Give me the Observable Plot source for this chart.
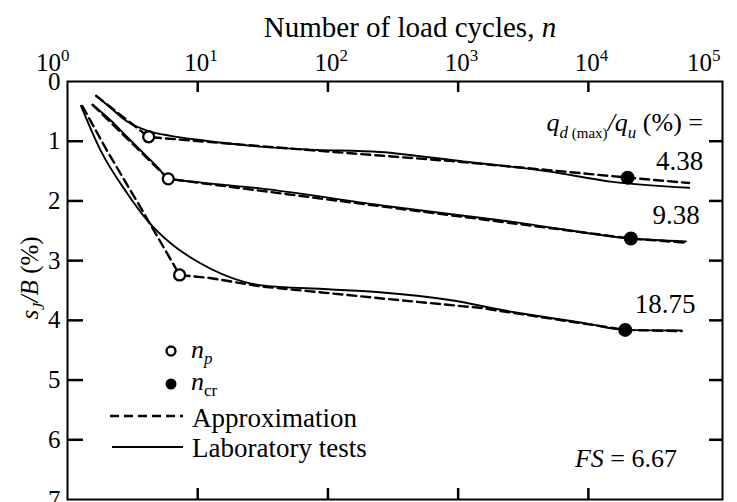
<!DOCTYPE html>
<html><head><meta charset="utf-8">
<script src="https://cdn.jsdelivr.net/npm/d3@7"></script>
<script src="https://cdn.jsdelivr.net/npm/@observablehq/plot@0.6"></script>
<style>
html,body{margin:0;padding:0;background:#fff;}
#chart{position:relative;width:737px;height:502px;overflow:hidden;}
#chart svg text, #chart svg tspan{font-family:"Liberation Serif","DejaVu Serif","Times New Roman",Times,serif !important;}
</style></head>
<body><div id="chart"></div>
<script>
// ---- tick values ----
const xTicks = [1, 10, 100, 1000, 10000, 100000];
const xInnerTicks = [10, 100, 1000, 10000];
const yTicks = [0, 1, 2, 3, 4, 5, 6, 7];
const yInnerTicks = [1, 2, 3, 4, 5, 6];
const ratioLabels = ["4.38", "9.38", "18.75"];

// ---- laboratory tests (solid) ----
const labN_438 = [1.66, 2.14, 2.87, 4.2, 6.2, 10.4, 30, 73, 250, 1090, 4750, 15300, 59400];
const labS_438 = [0.24, 0.44, 0.67, 0.83, 0.91, 0.98, 1.09, 1.14, 1.18, 1.34, 1.50, 1.68, 1.78];
const labN_938 = [1.56, 2.14, 2.87, 3.83, 4.9, 5.94, 10.4, 30, 250, 860, 2630, 21200, 56000];
const labS_938 = [0.39, 0.65, 0.93, 1.20, 1.43, 1.62, 1.69, 1.79, 2.07, 2.22, 2.35, 2.63, 2.68];
const labN_1875 = [1.27, 1.79, 2.87, 4.08, 6.2, 10.4, 22.3, 30, 100, 250, 860, 2630, 9600, 19200, 52000];
const labS_1875 = [0.41, 1.15, 1.87, 2.32, 2.71, 3.04, 3.35, 3.41, 3.48, 3.53, 3.66, 3.86, 4.05, 4.16, 4.17];

// ---- approximation (dashed) ----
const apxN_438 = [1.66, 4.2, 10.4, 73, 250, 860, 4750, 20000, 59400];
const apxS_438 = [0.24, 0.93, 1.00, 1.15, 1.24, 1.33, 1.48, 1.61, 1.70];
const apxN_938 = [1.56, 5.94, 21200, 56000];
const apxS_938 = [0.39, 1.63, 2.63, 2.70];
const apxN_1875 = [1.30, 2.0, 3.62, 7.26, 12.4, 30, 250, 1460, 19200, 52000];
const apxS_1875 = [0.41, 1.15, 2.10, 3.24, 3.29, 3.43, 3.63, 3.79, 4.16, 4.18];

// ---- characteristic points ----
const npN = [4.2, 5.94, 7.26];
const npS = [0.925, 1.63, 3.24];
const ncrN = [20000, 21200, 19200];
const ncrS = [1.61, 2.63, 4.16];

function rows(ns, ss, key) { return ns.map((n, i) => ({n, s: ss[i], key})); }
const labRows = [...rows(labN_438, labS_438, "4.38"), ...rows(labN_938, labS_938, "9.38"), ...rows(labN_1875, labS_1875, "18.75")];
const apxRows = [...rows(apxN_438, apxS_438, "4.38"), ...rows(apxN_938, apxS_938, "9.38"), ...rows(apxN_1875, apxS_1875, "18.75")];
const npRows = rows(npN, npS, "np");
const ncrRows = rows(ncrN, ncrS, "ncr");
const labSeriesN = [labN_438, labN_938, labN_1875];
const labSeriesS = [labS_438, labS_938, labS_1875];
const endRows = ratioLabels.map((k, i) => ({key: k, n: labSeriesN[i].at(-1), s: labSeriesS[i].at(-1)}));

const W = 737, H = 502, mL = 67, mR = 15, mT = 81, mB = 3;
const pw = W - mL - mR, ph = H - mT - mB;
const FONT = "'Liberation Serif', 'DejaVu Serif', serif";

const plot = Plot.plot({
  width: W, height: H,
  marginLeft: mL, marginRight: mR, marginTop: mT, marginBottom: mB,
  x: {type: "log", domain: [1, 10 ** 5.03], axis: null},
  y: {domain: [0, 7], reverse: true},
  style: {fontFamily: FONT, fontSize: "25px", background: "#fff", color: "#000", overflow: "visible"},
  marks: [
    Plot.frame({stroke: "#000", strokeWidth: 2}),
    Plot.tickX(xInnerTicks, {x: d => d, insetBottom: ph - 11, stroke: "#000", strokeWidth: 2.5}),
    Plot.tickX(xInnerTicks, {x: d => d, insetTop: ph - 11, stroke: "#000", strokeWidth: 2.5}),
    Plot.tickY(yInnerTicks, {y: d => d, insetRight: pw - 16, stroke: "#000", strokeWidth: 2.5}),
    Plot.tickY(yInnerTicks, {y: d => d, insetLeft: pw - 13, stroke: "#000", strokeWidth: 2.5}),
    Plot.axisY({anchor: "left", ticks: yTicks, tickSize: 0, tickPadding: 7, fontSize: 25, label: null, tickFormat: d => String(d)}),
    Plot.text(xTicks, {x: d => d, text: d => "E" + Math.round(Math.log10(d)), frameAnchor: "top",
      dy: -11, dx: -13.5, lineAnchor: "bottom", textAnchor: "start", fontSize: 25}),
    Plot.line(labRows, {x: "n", y: "s", z: "key", curve: "monotone-x", stroke: "#000", strokeWidth: 1.9}),
    Plot.line(apxRows, {x: "n", y: "s", z: "key", curve: "linear", stroke: "#000", strokeWidth: 2.4, strokeDasharray: "9,5"}),
    Plot.dot(npRows, {x: "n", y: "s", r: 5.5, fill: "#fff", stroke: "#000", strokeWidth: 2.3}),
    Plot.dot(ncrRows, {x: "n", y: "s", r: 7, fill: "#000", stroke: "none"}),
    Plot.text(endRows, {x: "n", y: "s", text: "key", textAnchor: "end", dx: 14, dy: -26, fontSize: 27})
  ]
});

const svg = d3.select(plot);
// x tick labels as powers of ten
const nudge = {"0": -18, "5": -18};
svg.selectAll("text").filter(function () { return /^E[0-9]$/.test(this.textContent); }).each(function () {
  const e = this.textContent.slice(1);
  const t = d3.select(this);
  t.text("");
  t.append("tspan").text("10").attr("dx", nudge[e] || 0);
  t.append("tspan").text(e).attr("font-size", 17).attr("dy", -10);
});

function rich(parent, x, y, parts, opts = {}) {
  const t = parent.append("text").attr("x", x).attr("y", y)
    .style("font-family", FONT).attr("fill", "#000")
    .attr("text-anchor", opts.anchor || "start").attr("font-size", opts.size || 27);
  if (opts.transform) t.attr("transform", opts.transform);
  for (const p of parts) {
    const s = t.append("tspan").text(p.t);
    if (p.i) s.attr("font-style", "italic");
    if (p.fs) s.attr("font-size", p.fs);
    if (p.dy) s.attr("dy", p.dy);
  }
  return t;
}
const g = svg.append("g");
// title
rich(g, 410, 37, [{t: "Number of load cycles, "}, {t: "n", i: true}], {anchor: "middle", size: 29});
// y-axis title
rich(g, 0, 0, [{t: "s", i: true}, {t: "J", i: true, fs: 17, dy: 6}, {t: "/B", i: true, dy: -6}, {t: " (%)"}],
  {anchor: "middle", size: 25, transform: "translate(38,278) rotate(-90)"});
// ratio header
rich(g, W - mR - 19, 131, [
  {t: "q", i: true}, {t: "d", i: true, fs: 17, dy: 7}, {t: " (max)", fs: 15},
  {t: "/q", i: true, dy: -7}, {t: "u", i: true, fs: 17, dy: 7}, {t: " (%) =", dy: -7}
], {anchor: "end", size: 26});
// FS
rich(g, W - mR - 45, 467, [{t: "FS", i: true}, {t: " = 6.67"}], {anchor: "end", size: 26});

// legend
const lg = svg.append("g");
lg.append("circle").attr("cx", 171).attr("cy", 351).attr("r", 4.5).attr("fill", "#fff").attr("stroke", "#000").attr("stroke-width", 2.3);
rich(lg, 191, 358, [{t: "n", i: true}, {t: "p", i: true, fs: 17, dy: 6}], {size: 26});
lg.append("circle").attr("cx", 171).attr("cy", 384).attr("r", 5.5).attr("fill", "#000");
rich(lg, 191, 390, [{t: "n", i: true}, {t: "cr", fs: 17, dy: 6}], {size: 26});
lg.append("line").attr("x1", 110).attr("x2", 183).attr("y1", 416).attr("y2", 416)
  .attr("stroke", "#000").attr("stroke-width", 2.4).attr("stroke-dasharray", "9,5");
rich(lg, 192, 427, [{t: "Approximation"}], {size: 27});
lg.append("line").attr("x1", 112).attr("x2", 183).attr("y1", 447).attr("y2", 447)
  .attr("stroke", "#000").attr("stroke-width", 2);
rich(lg, 192, 457, [{t: "Laboratory tests"}], {size: 27});

document.getElementById("chart").appendChild(plot);
</script>
</body></html>
